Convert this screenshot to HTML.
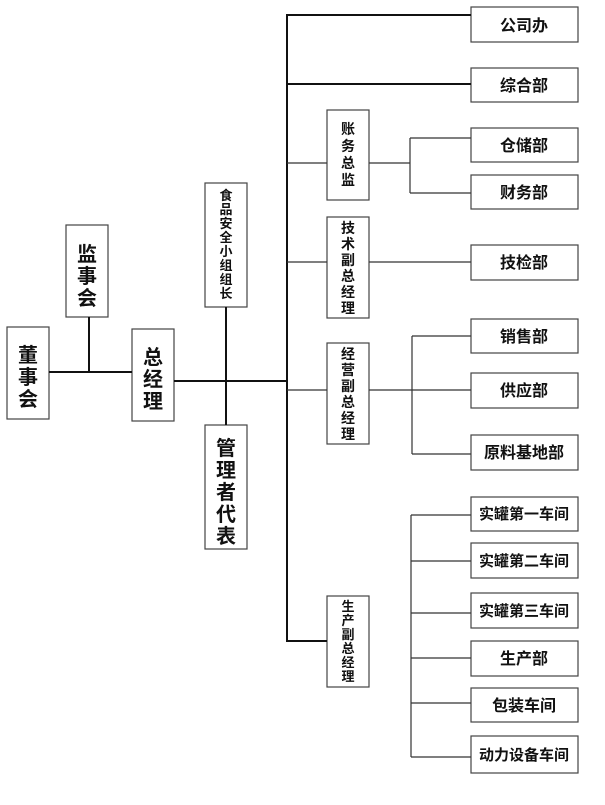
<!DOCTYPE html>
<html><head><meta charset="utf-8"><style>
body{margin:0;background:#fff;}
svg text{font-family:"Liberation Sans","Noto Sans CJK SC",sans-serif;fill:#111;font-weight:bold;}
</style></head><body>
<svg width="605" height="800" viewBox="0 0 605 800" xmlns="http://www.w3.org/2000/svg">
<g fill="#fff" stroke="#444" stroke-width="1.2">
<rect x="7" y="327" width="42" height="92"/>
<rect x="66" y="225" width="42" height="92"/>
<rect x="132" y="329" width="42" height="92"/>
<rect x="205" y="183" width="42" height="124"/>
<rect x="205" y="425" width="42" height="124"/>
<rect x="327" y="110" width="42" height="90"/>
<rect x="327" y="217" width="42" height="101"/>
<rect x="327" y="343" width="42" height="101"/>
<rect x="327" y="596" width="42" height="91"/>
<rect x="471" y="7" width="107" height="35"/>
<rect x="471" y="68" width="107" height="34"/>
<rect x="471" y="128" width="107" height="34"/>
<rect x="471" y="175" width="107" height="34"/>
<rect x="471" y="245" width="107" height="35"/>
<rect x="471" y="319" width="107" height="34"/>
<rect x="471" y="373" width="107" height="35"/>
<rect x="471" y="435" width="107" height="35"/>
<rect x="471" y="497" width="107" height="34"/>
<rect x="471" y="543" width="107" height="35"/>
<rect x="471" y="593" width="107" height="35"/>
<rect x="471" y="641" width="107" height="35"/>
<rect x="471" y="688" width="107" height="34"/>
<rect x="471" y="736" width="107" height="37"/>
</g>
<g stroke="#111" stroke-width="2" fill="none">
<path d="M49 372H132M89 317V372M174 381H287M226 307V425M287 14V641H327M287 15H471M287 84H471"/>
</g>
<g stroke="#333" stroke-width="1.2" fill="none">
<path d="M287 163H327M369 163H410M410 138V193M410 138H471M410 193H471"/>
<path d="M287 262H327M369 262H471"/>
<path d="M287 390H327M369 390H471M412 336V454M412 336H471M412 454H471"/>
<path d="M411 515V757M411 515H471M411 561H471M411 613H471M411 658H471M411 703H471M411 757H471"/>
</g>
<g font-size="20" text-anchor="middle">
<text x="28" y="362">董</text><text x="28" y="384">事</text><text x="28" y="406">会</text>
<text x="87" y="261">监</text><text x="87" y="283">事</text><text x="87" y="305">会</text>
<text x="153" y="364">总</text><text x="153" y="386">经</text><text x="153" y="408">理</text>
<text x="226" y="455">管</text><text x="226" y="477">理</text><text x="226" y="499">者</text><text x="226" y="521">代</text><text x="226" y="543">表</text>
</g>
<g font-size="13" text-anchor="middle">
<text x="226" y="200">食</text><text x="226" y="214">品</text><text x="226" y="228">安</text><text x="226" y="242">全</text><text x="226" y="256">小</text><text x="226" y="270">组</text><text x="226" y="284">组</text><text x="226" y="298">长</text>
</g>
<g font-size="14" text-anchor="middle">
<text x="348" y="134">账</text><text x="348" y="151">务</text><text x="348" y="168">总</text><text x="348" y="185">监</text>
<text x="348" y="233">技</text><text x="348" y="249">术</text><text x="348" y="265">副</text><text x="348" y="281">总</text><text x="348" y="297">经</text><text x="348" y="313">理</text>
<text x="348" y="359">经</text><text x="348" y="375">营</text><text x="348" y="391">副</text><text x="348" y="407">总</text><text x="348" y="423">经</text><text x="348" y="439">理</text>
</g>
<g font-size="13" text-anchor="middle">
<text x="348" y="611">生</text><text x="348" y="625">产</text><text x="348" y="639">副</text><text x="348" y="653">总</text><text x="348" y="667">经</text><text x="348" y="681">理</text>
</g>
<g font-size="16" text-anchor="middle">
<text x="524" y="31">公司办</text>
<text x="524" y="91">综合部</text>
<text x="524" y="151">仓储部</text>
<text x="524" y="198">财务部</text>
<text x="524" y="268">技检部</text>
<text x="524" y="342">销售部</text>
<text x="524" y="396">供应部</text>
<text x="524" y="458">原料基地部</text>
<text x="524" y="664">生产部</text>
<text x="524" y="711">包装车间</text>
</g>
<g font-size="15" text-anchor="middle">
<text x="524" y="519">实罐第一车间</text>
<text x="524" y="566">实罐第二车间</text>
<text x="524" y="616">实罐第三车间</text>
<text x="524" y="760">动力设备车间</text>
</g>
</svg>
</body></html>
